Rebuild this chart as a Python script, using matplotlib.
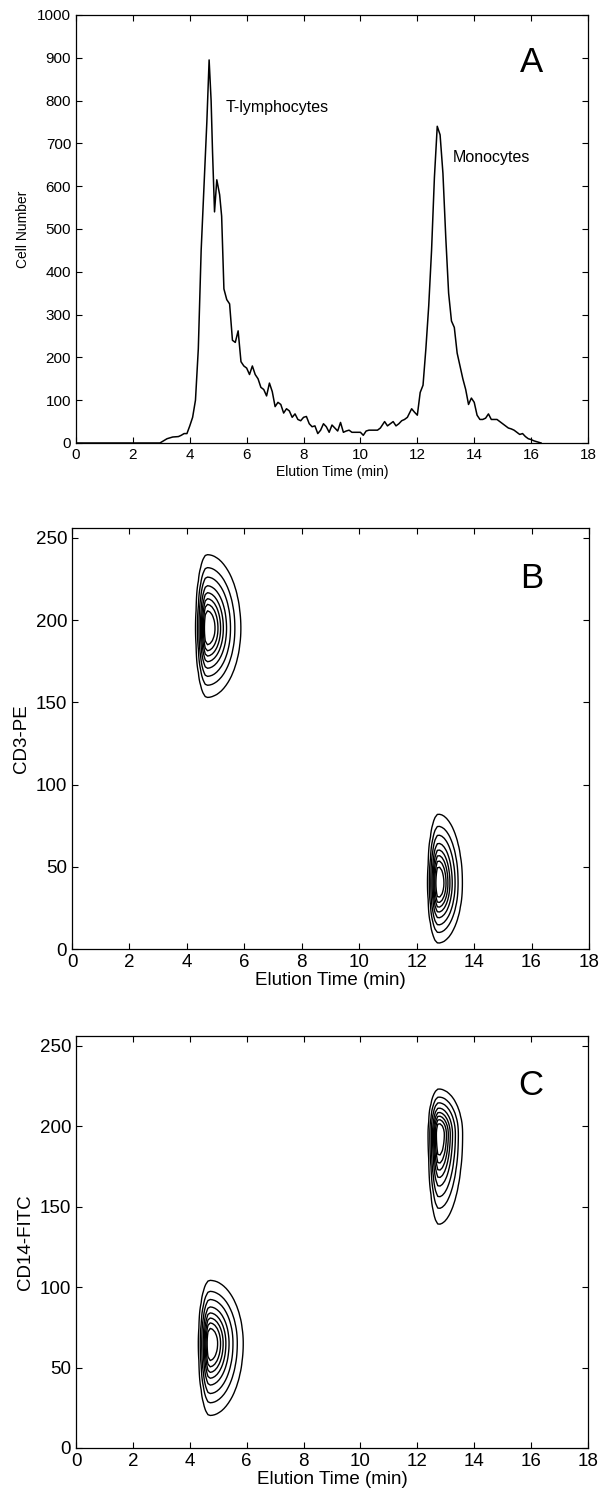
import numpy as np
import matplotlib.pyplot as plt

plt.rcParams['font.family'] = ['Liberation Sans', 'DejaVu Sans']

# panel A: elution profile (min, cell number)
elution_time = [0.0, 2.95, 3.2, 3.4, 3.6, 3.7, 3.8, 3.9, 4.0, 4.1, 4.2, 4.3, 4.4, 4.5,
                4.6, 4.68, 4.75, 4.8, 4.87, 4.95, 5.05, 5.12, 5.2, 5.3, 5.4, 5.5, 5.6,
                5.7, 5.8, 5.9, 6.0, 6.1, 6.2, 6.3, 6.4, 6.5, 6.6, 6.7, 6.8, 6.9, 7.0,
                7.1, 7.2, 7.3, 7.4, 7.5, 7.6, 7.7, 7.8, 7.9, 8.0, 8.1, 8.2, 8.3, 8.4,
                8.5, 8.6, 8.7, 8.8, 8.9, 9.0, 9.1, 9.2, 9.3, 9.4, 9.5, 9.6, 9.7, 9.8,
                9.9, 10.0, 10.1, 10.2, 10.3, 10.4, 10.5, 10.6, 10.7, 10.85, 10.95,
                11.05, 11.15, 11.25, 11.35, 11.45, 11.55, 11.65, 11.8, 11.9, 12.0,
                12.1, 12.2, 12.3, 12.4, 12.5, 12.6, 12.7, 12.8, 12.9, 13.0, 13.1,
                13.2, 13.3, 13.4, 13.5, 13.6, 13.7, 13.8, 13.9, 14.0, 14.1, 14.2,
                14.3, 14.4, 14.5, 14.6, 14.7, 14.8, 14.9, 15.0, 15.1, 15.2, 15.3,
                15.4, 15.5, 15.6, 15.7, 15.8, 15.9, 16.0, 16.1, 16.2, 16.35]
cell_number = [0, 0, 10, 14, 15, 18, 22, 22, 40, 60, 100, 220, 450, 600,
               750, 895, 800, 680, 540, 615, 580, 530, 360, 335, 325, 240, 235,
               262, 190, 180, 175, 160, 180, 160, 150, 130, 125, 110, 140, 120, 85,
               95, 90, 70, 80, 75, 60, 68, 55, 52, 60, 62, 45, 38, 40,
               22, 30, 45, 38, 25, 42, 35, 28, 48, 25, 28, 30, 25, 25,
               25, 25, 18, 28, 30, 30, 30, 30, 35, 50, 40,
               45, 50, 40, 45, 52, 55, 60, 80, 72, 65,
               118, 135, 220, 320, 450, 620, 740, 720, 630, 480, 350,
               285, 270, 210, 180, 150, 125, 90, 105, 95, 65, 55,
               55, 58, 68, 55, 55, 55, 50, 45, 40, 35, 33,
               30, 25, 20, 22, 15, 10, 8, 5, 3, 0]

# panels B/C: cell populations (centre time, centre intensity, spreads, peak)
pop_time = [4.7, 12.75]
pop_time_sd_left = [0.14, 0.13]
pop_time_sd_right = [0.42, 0.30]
cd3_centre = [195, 40]
cd3_sd_low = [15, 13]
cd3_sd_high = [16, 15]
cd14_centre = [65, 195]
cd14_sd_low = [16, 20]
cd14_sd_high = [14, 10]
pop_peak = [1.0, 1.0]
levels = [0.02, 0.07, 0.15, 0.27, 0.4, 0.53, 0.66, 0.8]

fig = plt.figure(figsize=(6.05, 14.96), dpi=100)


def style(ax, fs):
    ax.tick_params(direction='in', top=True, right=True, length=4, labelsize=fs, width=0.8)
    for s in ax.spines.values():
        s.set_linewidth(0.9)
    ax.set_xlim(0, 18)
    ax.set_xticks(range(0, 19, 2))


axA = fig.add_axes([76/605, 1-443/1496, 512/605, 428/1496])
axA.plot(elution_time, cell_number, color='black', lw=1.1)
axA.set_ylim(0, 1000)
axA.set_yticks(range(0, 1001, 100))
style(axA, 11)
axA.set_xlabel('Elution Time (min)', fontsize=10, labelpad=2)
axA.set_ylabel('Cell Number', fontsize=10, labelpad=5)
axA.text(5.25, 785, 'T-lymphocytes', fontsize=11.5, va='center')
axA.text(13.25, 668, 'Monocytes', fontsize=11.5, va='center')
axA.text(16.0, 890, 'A', fontsize=25, ha='center', va='center')

tgrid = np.arange(0, 18.01, 0.08)
igrid = np.arange(0, 256.1, 2.0)
T, I = np.meshgrid(tgrid, igrid)


def density(centre_i, sd_low, sd_high):
    z = np.zeros_like(T)
    for k in range(len(pop_time)):
        sx = np.where(T < pop_time[k], pop_time_sd_left[k], pop_time_sd_right[k])
        sy = np.where(I < centre_i[k], sd_low[k], sd_high[k])
        z += pop_peak[k] * np.exp(-0.5 * (((T - pop_time[k]) / sx) ** 2 + ((I - centre_i[k]) / sy) ** 2))
    return z


axB = fig.add_axes([72/605, 1-949/1496, 517/605, 421/1496])
axB.contour(T, I, density(cd3_centre, cd3_sd_low, cd3_sd_high), levels=levels, colors='black', linewidths=1.0)
axB.set_ylim(0, 256)
axB.set_yticks(range(0, 251, 50))
style(axB, 13.5)
axB.set_xlabel('Elution Time (min)', fontsize=13.5, labelpad=1)
axB.set_ylabel('CD3-PE', fontsize=13.5, labelpad=4)
axB.text(16.0, 225, 'B', fontsize=25, ha='center', va='center')

axC = fig.add_axes([76/605, 1-1448/1496, 512/605, 412/1496])
axC.contour(T, I, density(cd14_centre, cd14_sd_low, cd14_sd_high), levels=levels, colors='black', linewidths=1.0)
axC.set_ylim(0, 256)
axC.set_yticks(range(0, 251, 50))
style(axC, 13.5)
axC.set_xlabel('Elution Time (min)', fontsize=13.5, labelpad=1)
axC.set_ylabel('CD14-FITC', fontsize=13.5, labelpad=4)
axC.text(16.0, 225, 'C', fontsize=25, ha='center', va='center')

fig.savefig('out.png', dpi=100)
